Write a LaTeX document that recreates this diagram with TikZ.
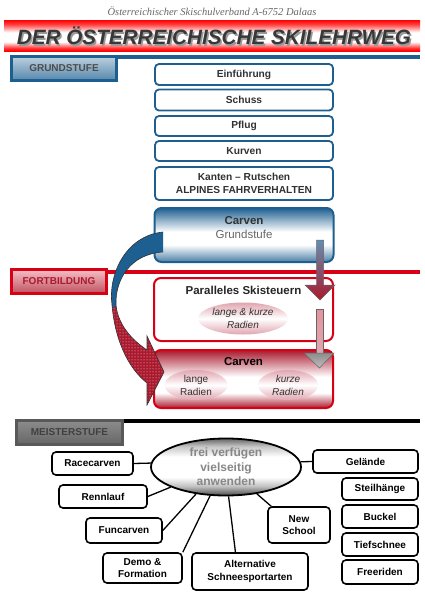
\documentclass[tikz,border=0pt]{standalone}
\usepackage{fontspec}
\setmainfont{Liberation Sans}
\newfontfamily\hdrfont{Liberation Serif}
\usetikzlibrary{shapes.geometric,patterns}
\definecolor{bluemain}{RGB}{30,95,145}
\definecolor{redmain}{RGB}{215,0,20}
\definecolor{darkred}{RGB}{170,25,45}
\definecolor{txtgray}{RGB}{50,50,50}
\definecolor{pinkish}{RGB}{225,165,175}
\newcommand\fsz[2]{\fontsize{#1}{#2}\selectfont}
\pgfdeclareverticalshading{bannershade}{100bp}{color(0bp)=(red); color(25bp)=(red); color(29bp)=(red!85); color(40bp)=(white); color(55bp)=(white); color(68bp)=(red!75); color(75bp)=(red); color(100bp)=(red)}
\pgfdeclareverticalshading{cgshade}{100bp}{color(0bp)=(bluemain!80); color(25bp)=(bluemain!80); color(41bp)=(white); color(53bp)=(white); color(75bp)=(bluemain); color(100bp)=(bluemain)}
\pgfdeclareverticalshading{cfshade}{100bp}{color(0bp)=(darkred); color(25bp)=(darkred); color(38bp)=(white); color(52bp)=(white); color(75bp)=(darkred); color(100bp)=(darkred)}
\pgfdeclareverticalshading{ellshade}{100bp}{color(0bp)=(black!70); color(25bp)=(black!70); color(33bp)=(black!25); color(41bp)=(white); color(59bp)=(white); color(68bp)=(black!22); color(75bp)=(black!60); color(100bp)=(black!60)}
\begin{document}
\begin{tikzpicture}[x=1pt,y=-1pt,
  gbox/.style={draw=bluemain, line width=1.8, rounded corners=4, fill=white, minimum width=178, inner sep=0, font=\bfseries\fsz{10.2}{13}, text=txtgray, align=center},
  lbl/.style={line width=3, inner sep=0, minimum width=105, minimum height=24, font=\bfseries\fsz{10}{12}},
  bigbox/.style={line width=2, rounded corners=7, inner sep=0, minimum width=179},
  softell/.style={ellipse, inner sep=0, top color=pinkish, bottom color=pinkish, middle color=white, text=txtgray, align=center, font=\fsz{10}{13}},
  mbox/.style={draw=black, line width=1.6, rounded corners=4, fill=white, inner sep=0, font=\bfseries\fsz{10}{12.5}, align=center},
  conn/.style={draw=black, line width=1.3},
  ]
\useasboundingbox (0,0) rectangle (425,600);
% header
\node[font=\hdrfont\itshape\fsz{10.5}{12}, text=black!60] (hdr) at (212,11) {Österreichischer Skischulverband A-6752 Dalaas};
\node[minimum width=416, minimum height=31, inner sep=0, shade, shading=bannershade] (banner) at (212,35.5) {};
\node[font=\bfseries\itshape\fsz{20.7}{24}, text=black!40] (titleshadow) at (215.5,37.8) {DER ÖSTERREICHISCHE SKILEHRWEG};
\node[font=\bfseries\itshape\fsz{20.7}{24}, text=black!78] (title) at (214,36) {DER ÖSTERREICHISCHE SKILEHRWEG};
% section lines
\draw[bluemain, line width=3.5] (10,56.8) -- (420,56.8);
\draw[redmain, line width=4] (10,271.5) -- (420,271.5);
\draw[black, line width=4] (124,421) -- (420,421);
% section labels
\node[lbl, draw=bluemain, top color=bluemain!30, middle color=white, bottom color=bluemain!75, text=black!70] (lg) at (64,68.5) {GRUNDSTUFE};
\node[lbl, draw=redmain, minimum width=95, top color=redmain!25, middle color=white, bottom color=darkred!75, text=darkred] (lf) at (59,281.5) {FORTBILDUNG};
\node[lbl, draw=black!65, minimum width=106, top color=black!45, middle color=white, bottom color=black!60, text=black!75] (lm) at (69.5,432.5) {MEISTERSTUFE};
% Grundstufe boxes
\node[gbox, minimum height=21] (g1) at (244,74.5) {Einführung};
\node[gbox, minimum height=21] (g2) at (244,100) {Schuss};
\node[gbox, minimum height=20] (g3) at (244,126) {Pflug};
\node[gbox, minimum height=20] (g4) at (244,151) {Kurven};
\node[gbox, minimum height=33] (g5) at (244,183.5) {Kanten -- Rutschen\\ALPINES FAHRVERHALTEN};
% Carven Grundstufe
\node[bigbox, draw=bluemain, minimum height=54, shade, shading=cgshade] (cg) at (244,235) {};
\node[align=center, inner sep=0, font=\fsz{11.5}{14}] (cgt) at (244,228) {\textbf{\textcolor{txtgray}{Carven}}\\\textcolor{black!60}{Grundstufe}};
% Paralleles Skisteuern
\node[bigbox, draw=redmain, minimum height=63, fill=white] (ps) at (243.5,309.5) {};
\node[font=\bfseries\fsz{11.5}{13}, text=black!85, inner sep=0] (pst) at (243.5,290) {Paralleles Skisteuern};
\node[softell, minimum width=90, minimum height=32, font=\itshape\fsz{10}{13}] (e1) at (243,318.5) {lange \& kurze\\Radien};
% Carven Fortbildung
\node[bigbox, draw=redmain, minimum height=58, shade, shading=cfshade] (cf) at (243.5,379) {};
\node[font=\bfseries\fsz{11.5}{13}, text=black, inner sep=0] (cft) at (243.5,362) {Carven};
\node[softell, minimum width=63, minimum height=30] (e2) at (196,385) {lange\\Radien};
\node[softell, minimum width=60, minimum height=30, font=\itshape\fsz{10}{13}] (e3) at (288,385) {kurze\\Radien};
% straight block arrows
\path[draw=black!60, line width=0.5, top color=bluemain!70, middle color=pinkish, bottom color=darkred] (316.5,240) -- (323.5,240) -- (323.5,285) -- (335,285) -- (320,300) -- (305,285) -- (316.5,285) -- cycle;
\path[draw=black!60, line width=0.5, top color=pinkish!90!red, bottom color=pinkish] (316,309) rectangle (323,353);
\path[draw=black!60, line width=0.5, top color=black!45, bottom color=black!25] (304,353) -- (334,353) -- (319.5,368) -- cycle;
% curved arrow
\begin{scope}
\clip (0,306) rectangle (425,420);
\fill[darkred] (163,232) .. controls (125,236) and (108,275) .. (112,305) .. controls (115,340) and (128,368) .. (147,383) -- (147,405) -- (164,372) -- (147,336) -- (147,350) .. controls (132,340) and (118,325) .. (116,305) .. controls (115,280) and (130,254) .. (163,252) -- cycle;
\fill[pattern=dots, pattern color=white!60!pinkish] (163,232) .. controls (125,236) and (108,275) .. (112,305) .. controls (115,340) and (128,368) .. (147,383) -- (147,405) -- (164,372) -- (147,336) -- (147,350) .. controls (132,340) and (118,325) .. (116,305) .. controls (115,280) and (130,254) .. (163,252) -- cycle;
\end{scope}
\begin{scope}
\clip (0,200) rectangle (425,306);
\fill[bluemain] (163,232) .. controls (125,236) and (108,275) .. (112,305) .. controls (115,340) and (128,368) .. (147,383) -- (147,405) -- (164,372) -- (147,336) -- (147,350) .. controls (132,340) and (118,325) .. (116,305) .. controls (115,280) and (130,254) .. (163,252) -- cycle;
\end{scope}
\draw[black!80, line width=0.6] (163,232) .. controls (125,236) and (108,275) .. (112,305) .. controls (115,340) and (128,368) .. (147,383) -- (147,405) -- (164,372) -- (147,336) -- (147,350) .. controls (132,340) and (118,325) .. (116,305) .. controls (115,280) and (130,254) .. (163,252);
% Meisterstufe
\node[ellipse, draw=black, line width=1.8, minimum width=150, minimum height=57, inner sep=0, shade, shading=ellshade, font=\bfseries\fsz{12}{14.5}, text=black!47, align=center] (ell) at (226,467) {frei verfügen\\vielseitig\\anwenden};
\node[mbox, minimum width=81, minimum height=23] (race) at (92.5,463.5) {Racecarven};
\node[mbox, minimum width=88, minimum height=23] (renn) at (103,496.5) {Rennlauf};
\node[mbox, minimum width=76, minimum height=25] (fun) at (124,530.5) {Funcarven};
\node[mbox, minimum width=79, minimum height=30] (demo) at (142.5,568) {Demo \&\\Formation};
\node[mbox, minimum width=116, minimum height=37] (alt) at (250,571.5) {Alternative\\Schneesportarten};
\node[mbox, minimum width=62, minimum height=36] (news) at (299,525) {New\\School};
\node[mbox, minimum width=105, minimum height=23] (gel) at (365.5,461.5) {Gelände};
\node[mbox, minimum width=76, minimum height=22] (steil) at (380,489) {Steilhänge};
\node[mbox, minimum width=76, minimum height=23] (buck) at (380,516.5) {Buckel};
\node[mbox, minimum width=76, minimum height=23] (tief) at (380,544.5) {Tiefschnee};
\node[mbox, minimum width=76, minimum height=24] (free) at (380,572) {Freeriden};
\draw[conn] (race.east) -- (ell.177);
\draw[conn] (renn.east) -- (ell.200);
\draw[conn] (fun.east) -- (ell.222);
\draw[conn] (demo.north east) -- (ell.241);
\draw[conn] (alt.127) -- (ell.275);
\draw[conn] (news.146) -- (ell.319);
\draw[conn] (gel.west) -- (ell.4);
\end{tikzpicture}
\end{document}
